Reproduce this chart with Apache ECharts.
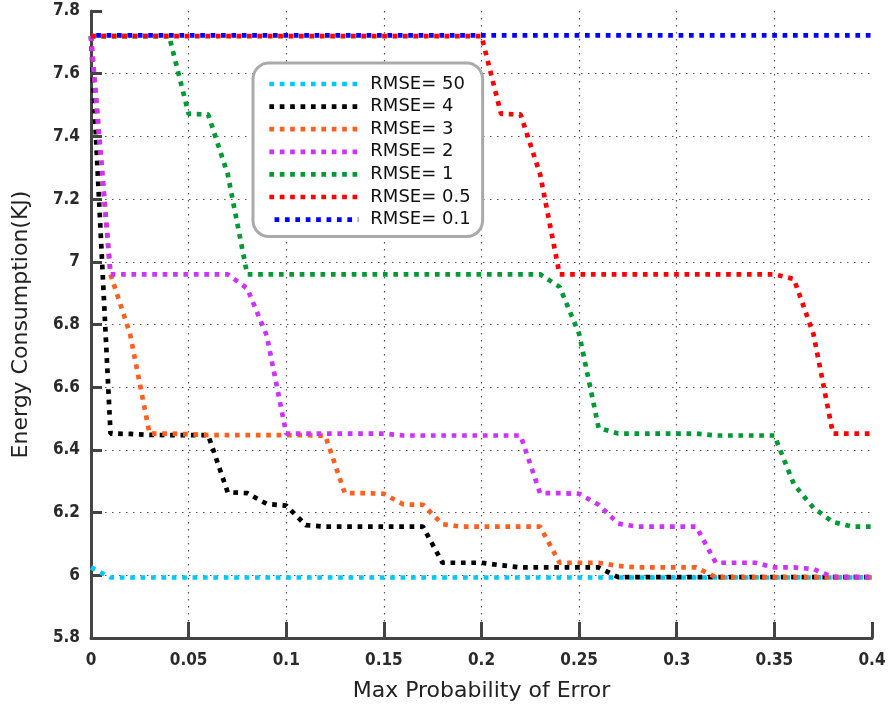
<!DOCTYPE html>
<html>
<head>
<meta charset="utf-8">
<script src="https://cdn.jsdelivr.net/npm/echarts@6/dist/echarts.min.js"></script>
<style>
html,body{margin:0;padding:0;background:#fff;}
#chart{width:889px;height:709px;}
</style>
</head>
<body>
<div id="chart"></div>
<script>
var xValues = [0,0.01,0.02,0.03,0.04,0.05,0.06,0.07,0.08,0.09,0.10,0.11,0.12,0.13,0.14,0.15,0.16,0.17,0.18,0.19,0.20,0.21,0.22,0.23,0.24,0.25,0.26,0.27,0.28,0.29,0.30,0.31,0.32,0.33,0.34,0.35,0.36,0.37,0.38,0.39,0.40];

var xTickLabels = ['0','0.05','0.1','0.15','0.2','0.25','0.3','0.35','0.4'];
var yTickLabels = ['5.8','6','6.2','6.4','6.6','6.8','7','7.2','7.4','7.6','7.8'];

var seriesNames = ['RMSE= 50','RMSE= 4','RMSE= 3','RMSE= 2','RMSE= 1','RMSE= 0.5','RMSE= 0.1'];

var rmse50 = [6.025,5.993,5.993,5.993,5.993,5.993,5.993,5.993,5.993,5.993,5.993,5.993,5.993,5.993,5.993,5.993,5.993,5.993,5.993,5.993,5.993,5.993,5.993,5.993,5.993,5.993,5.993,5.993,5.993,5.993,5.993,5.993,5.993,5.993,5.993,5.993,5.993,5.993,5.993,5.993,5.993];
var rmse4 = [7.72,6.452,6.451,6.448,6.447,6.447,6.447,6.265,6.262,6.228,6.222,6.16,6.155,6.155,6.155,6.155,6.155,6.155,6.04,6.04,6.04,6.032,6.025,6.025,6.025,6.025,6.025,5.994,5.994,5.994,5.994,5.994,5.994,5.994,5.994,5.994,5.994,5.994,5.994,5.994,5.994];
var rmse3 = [7.72,6.96,6.77,6.452,6.452,6.45,6.447,6.447,6.447,6.447,6.447,6.447,6.445,6.262,6.262,6.26,6.226,6.225,6.163,6.155,6.155,6.155,6.155,6.155,6.04,6.04,6.04,6.03,6.025,6.025,6.025,6.025,5.994,5.994,5.994,5.994,5.994,5.994,5.994,5.994,5.994];
var rmse2 = [7.72,6.96,6.96,6.96,6.96,6.96,6.96,6.96,6.915,6.765,6.452,6.452,6.452,6.452,6.452,6.452,6.446,6.446,6.446,6.446,6.446,6.446,6.446,6.262,6.262,6.26,6.225,6.165,6.155,6.155,6.155,6.155,6.04,6.04,6.04,6.025,6.025,6.02,5.994,5.994,5.994];
var rmse1 = [7.72,7.72,7.72,7.72,7.72,7.472,7.47,7.28,6.96,6.96,6.96,6.96,6.96,6.96,6.96,6.96,6.96,6.96,6.96,6.96,6.96,6.96,6.96,6.96,6.92,6.77,6.47,6.452,6.452,6.452,6.452,6.452,6.446,6.446,6.446,6.446,6.29,6.215,6.17,6.155,6.155];
var rmse05 = [7.72,7.72,7.72,7.72,7.72,7.72,7.72,7.72,7.72,7.72,7.72,7.72,7.72,7.72,7.72,7.72,7.72,7.72,7.72,7.72,7.72,7.472,7.47,7.28,6.96,6.96,6.96,6.96,6.96,6.96,6.96,6.96,6.96,6.96,6.96,6.96,6.945,6.77,6.452,6.452,6.452];
var rmse01 = [7.722,7.722,7.722,7.722,7.722,7.722,7.722,7.722,7.722,7.722,7.722,7.722,7.722,7.722,7.722,7.722,7.722,7.722,7.722,7.722,7.722,7.722,7.722,7.722,7.722,7.722,7.722,7.722,7.722,7.722,7.722,7.722,7.722,7.722,7.722,7.722,7.722,7.722,7.722,7.722,7.722];

var seriesValues = [rmse50, rmse4, rmse3, rmse2, rmse1, rmse05, rmse01];
var seriesColors = ['#00c8ff','#000000','#ff6020','#cc33ff','#009933','#ff0000','#0000ff'];
var seriesOffsets = [0,0,0,0,0,0,5.2];

function pairs(ys){
  return xValues.map(function(x,i){ return [x, ys[i]]; });
}

var chart = echarts.init(document.getElementById('chart'), null, {renderer:'canvas'});
var axisColor = '#444';
var tickFont = {fontFamily:'"DejaVu Sans Condensed","Liberation Sans Narrow",sans-serif', fontWeight:'bold', fontSize:17, color:'#2a2a2a'};

var option = {
  animation:false,
  backgroundColor:'#fff',
  grid:{left:91, right:17, top:11, bottom:71, containLabel:false},
  legend:{
    orient:'vertical',
    left:253, top:63,
    padding:[11,12,7,14],
    itemWidth:89, itemHeight:12, itemGap:2.6,
    borderColor:'#aaa', borderWidth:3, borderRadius:16,
    backgroundColor:'#fff',
    textStyle:{fontFamily:'"DejaVu Sans", sans-serif', fontSize:18, color:'#111', lineHeight:20, padding:[0,0,0,7]},
    lineStyle:{width:4.7},
    itemStyle:{opacity:0},
    data:seriesNames
  },
  xAxis:{
    type:'value', min:0, max:0.4, interval:0.05,
    name:'Max Probability of Error', nameLocation:'middle', nameGap:42,
    nameTextStyle:{fontFamily:'"DejaVu Sans", sans-serif', fontSize:22, color:'#222'},
    axisLine:{show:true, onZero:false, lineStyle:{color:axisColor, width:3}},
    axisTick:{show:true, inside:true, length:16, lineStyle:{color:axisColor, width:3}},
    axisLabel:Object.assign({margin:14, formatter:function(v){ return xTickLabels[Math.round(v/0.05)]; }}, tickFont),
    splitLine:{show:true, showMinLine:false, showMaxLine:false, lineStyle:{color:'#555', width:1.2, type:[1.5,5.5]}}
  },
  yAxis:{
    type:'value', min:5.8, max:7.8, interval:0.2,
    name:'Energy Consumption(KJ)', nameLocation:'middle', nameGap:59,
    nameTextStyle:{fontFamily:'"DejaVu Sans", sans-serif', fontSize:22, color:'#222'},
    axisLine:{show:true, onZero:false, lineStyle:{color:axisColor, width:3}},
    axisTick:{show:true, inside:true, length:11, lineStyle:{color:axisColor, width:3}},
    axisLabel:Object.assign({margin:11, formatter:function(v){ return yTickLabels[Math.round((v-5.8)/0.2)]; }}, tickFont),
    splitLine:{show:true, showMinLine:false, showMaxLine:false, lineStyle:{color:'#555', width:1.2, type:[1.5,5.5]}}
  },
  series: seriesNames.map(function(name, i){
    return {
      name:name, type:'line', data:pairs(seriesValues[i]),
      symbol:'none', showSymbol:false, z:2+i,
      lineStyle:{color:seriesColors[i], width:4.7, type:[4.7,5.7], dashOffset:seriesOffsets[i], cap:'butt'},
      itemStyle:{color:seriesColors[i]},
      emphasis:{disabled:true}
    };
  })
};
chart.setOption(option);
</script>
</body>
</html>
